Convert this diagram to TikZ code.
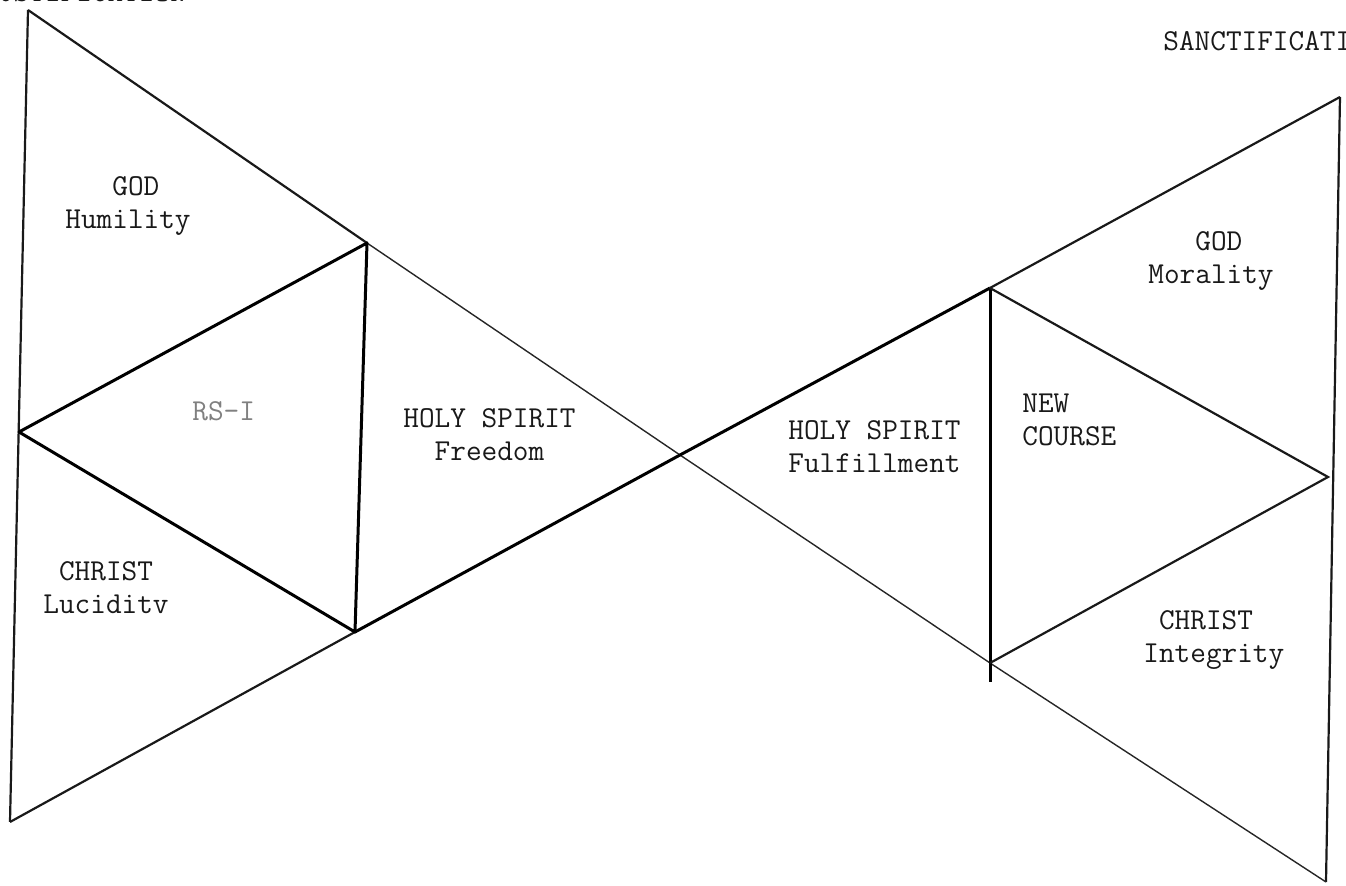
\documentclass[tikz,border=0pt]{standalone}
\usepackage{fontspec}
\begin{document}
\begin{tikzpicture}[x=0.5pt,y=-0.5pt,
  thinln/.style={line width=0.7pt,draw=black!85},
  medln/.style={line width=1.1pt,draw=black!90},
  thickln/.style={line width=1.5pt,draw=black,line join=round},
  lbl/.style={inner sep=0pt,anchor=base west,align=left,text=black!90,
    font=\ttfamily\fontsize{15.2}{16.5}\selectfont\addfontfeatures{FakeBold=0.8}}]
\useasboundingbox (0,0) rectangle (1346,886);
\clip (0,0) rectangle (1346,886);
% vertices
\coordinate (LT) at (28,10);
\coordinate (LB) at (10,822);
\coordinate (LM) at (19,432);
\coordinate (IT) at (367,243);
\coordinate (IB) at (355,632);
\coordinate (X) at (680,455);
\coordinate (RT) at (990,288);
\coordinate (RB) at (990,663);
\coordinate (RBx) at (990,682);
\coordinate (RM) at (1328,477);
\coordinate (OT) at (1340,97);
\coordinate (OB) at (1326,882);
% outer frame
\draw[medln] (LT) -- (LB);
\draw[medln] (OT) -- (OB);
\draw[medln] (LT) -- (IT);
\draw[thinln] (IT) -- (X) -- (RB) -- (OB);
\draw[medln] (LB) -- (IB);
\draw[thickln] (IB) -- (X) -- (RT);
\draw[medln] (RT) -- (OT);
% inner left triangle
\draw[thickln] (IT) -- (LM) -- (IB) -- cycle;
% inner right triangle
\draw[thickln] (RT) -- (RBx);
\draw[medln] (RT) -- (RM) -- (RB);
% labels
\node[lbl] (just) at (-18,2) {JUSTIFICATION};
\node[lbl] (sanct) at (1163,51) {SANCTIFICATI};
\node[lbl] (god1) at (65,229) {\hphantom{HHH}GOD\\Humility};
\node[lbl,text=black!50] (rsi) at (192,421) {RS-I};
\node[lbl] (hs1) at (403,461) {HOLY SPIRIT\\\hphantom{HH}Freedom};
\node[lbl] (chr1) at (43,614) {\hphantom{H}CHRIST\\Luciditv};
\node[lbl] (hs2) at (788,473) {HOLY SPIRIT\\Fulfillment};
\node[lbl] (nc) at (1022,446) {NEW\\COURSE};
\node[lbl] (god2) at (1148,284) {\hphantom{HHH}GOD\\Morality};
\node[lbl] (chr2) at (1143,663) {\hphantom{H}CHRIST\\Integrity};
\end{tikzpicture}
\end{document}
